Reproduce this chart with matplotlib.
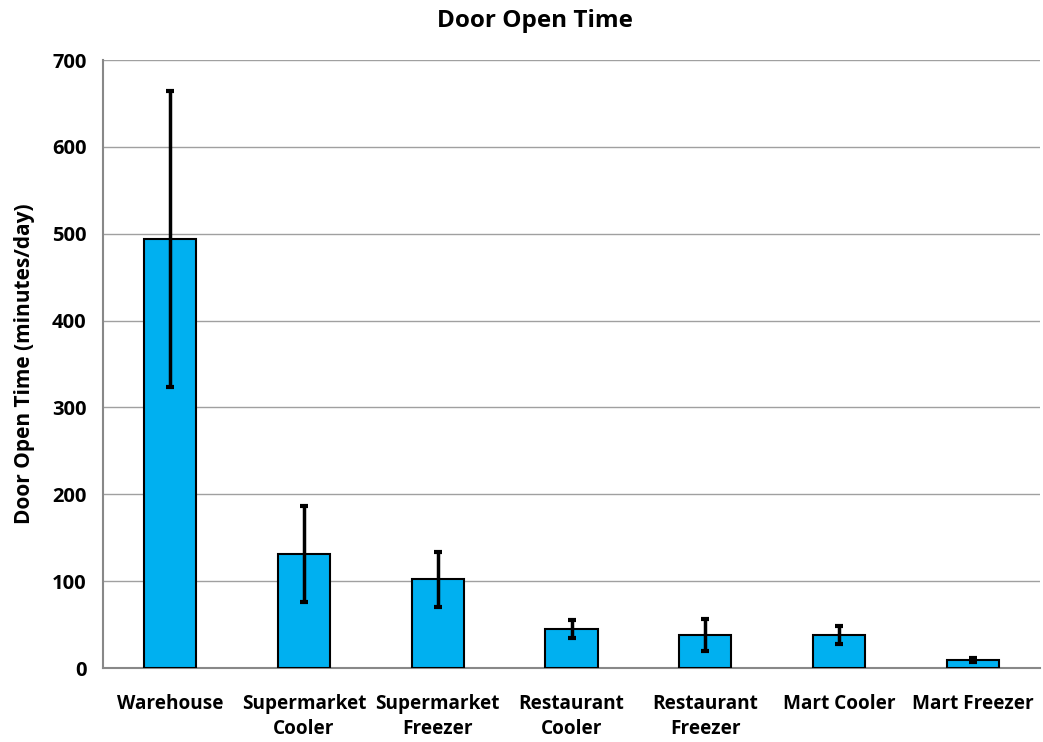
import matplotlib
matplotlib.use("Agg")
import matplotlib.pyplot as plt

categories = ["Warehouse", "Supermarket\nCooler", "Supermarket\nFreezer", "Restaurant\nCooler",
              "Restaurant\nFreezer", "Mart Cooler", "Mart Freezer"]
values = [494, 131, 102, 45, 38, 38, 9]
errors = [170, 55, 32, 10, 18, 10.5, 2.5]
yticks = [0, 100, 200, 300, 400, 500, 600, 700]

plt.rcParams['font.family'] = ['Open Sans', 'DejaVu Sans']
fig = plt.figure(figsize=(10.43, 7.42), dpi=100)
ax = fig.add_axes([0.099, 0.0997, 0.898, 0.8194])

x = range(len(categories))
ax.bar(x, values, width=0.39, color="#00B0F0", edgecolor="black", linewidth=1.5, zorder=3)
ax.errorbar(x, values, yerr=errors, fmt="none", ecolor="black", elinewidth=2.5,
            capsize=3, capthick=3, zorder=4)

ax.set_xlim(-0.5, len(categories) - 0.5)
ax.set_ylim(0, 700)
ax.set_yticks(yticks)
ax.set_yticklabels([str(v) for v in yticks], fontsize=14.5, fontweight="bold")
ax.set_xticks(list(x))
ax.set_xticklabels(categories, fontsize=13.7, fontweight="bold", linespacing=1.3)
ax.tick_params(axis="y", length=0, pad=12)
ax.tick_params(axis="x", length=0, pad=19)
ax.grid(axis="y", color="#A0A0A0", linewidth=1, zorder=0)
for s in ["top", "right"]:
    ax.spines[s].set_visible(False)
for s in ["left", "bottom"]:
    ax.spines[s].set_color("#888888")
    ax.spines[s].set_linewidth(1.5)
ax.set_ylabel("Door Open Time (minutes/day)", fontsize=15, fontweight="bold", labelpad=12)
fig.suptitle("Door Open Time", x=0.513, y=0.972, va="center", fontsize=17.5, fontweight="bold")

fig.savefig("out.png", dpi=100)
